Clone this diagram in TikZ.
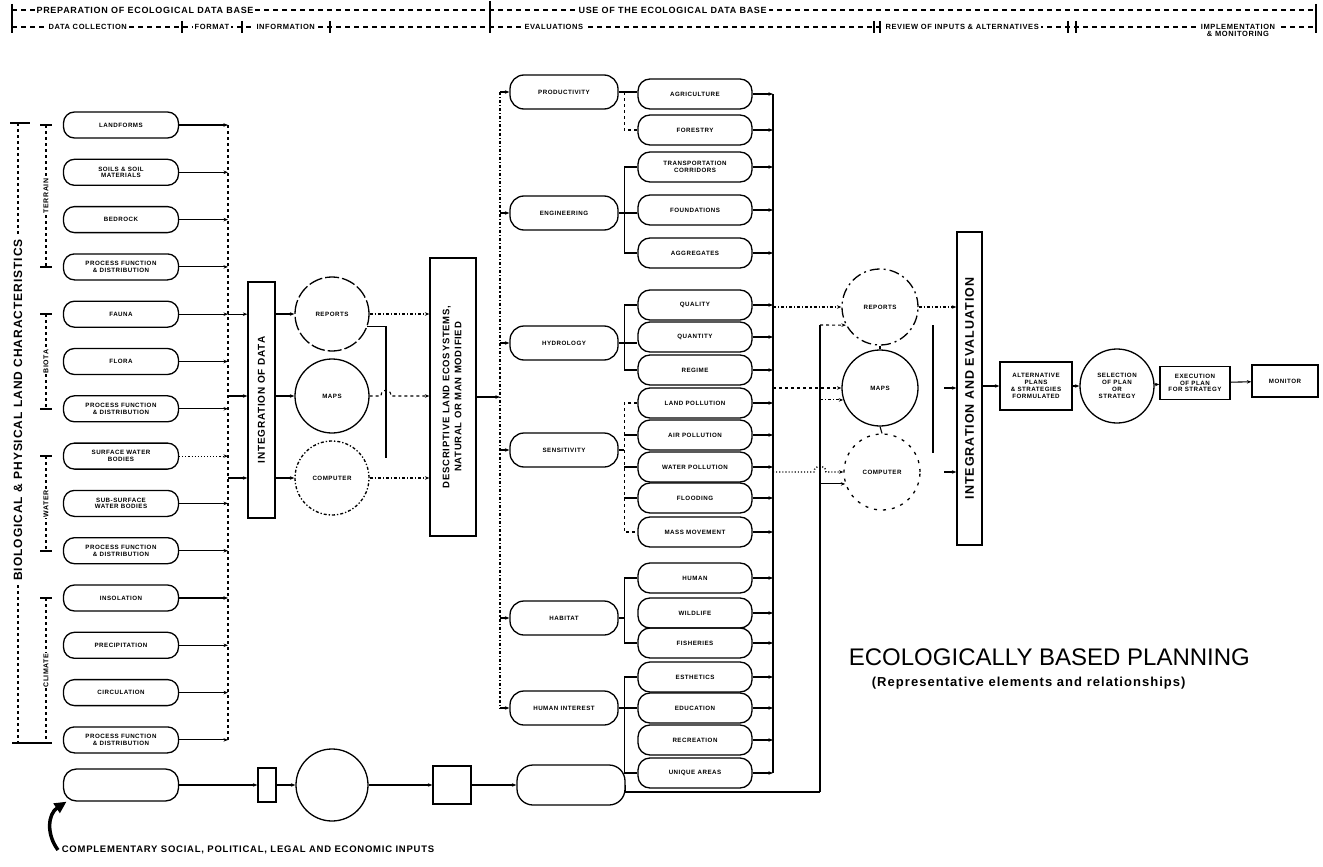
\documentclass[tikz,border=0pt]{standalone}
\usepackage{fontspec}
\usepackage{graphicx}
\setmainfont{Liberation Sans}
\newfontfamily\spacedfont[LetterSpace=8]{Liberation Sans}
\usetikzlibrary{arrows.meta,positioning,calc}

\tikzset{
  >={Stealth[length=4.5pt,width=3.5pt]},
  lbl/.style={font=\spacedfont\bfseries\fontsize{6.2}{6.8}\selectfont, align=center},
  pill/.style={lbl, draw, line width=1.3pt, rounded corners=11pt, minimum width=115pt, minimum height=26pt, inner sep=1pt},
  evalbox/.style={pill, minimum width=108pt, minimum height=34pt, rounded corners=14pt},
  subbox/.style={pill, minimum width=114pt, minimum height=30pt, rounded corners=12pt},
  ring/.style={lbl, draw, circle, line width=1.3pt, minimum size=74pt, inner sep=0pt},
  tallbox/.style={draw, line width=1.3pt, inner sep=0pt, font=\spacedfont\bfseries\fontsize{10}{12}\selectfont},
  plainbox/.style={lbl, draw, line width=1.3pt, inner sep=1pt},
  hdr1/.style={fill=white, inner sep=2pt, font=\spacedfont\bfseries\fontsize{9}{9}\selectfont},
  hdr2/.style={fill=white, inner sep=2pt, font=\spacedfont\bfseries\fontsize{7.5}{7}\selectfont, align=center},
  hdash/.style={line width=1.4pt, dash pattern=on 5pt off 4pt},
  feed/.style={->, line width=1.1pt},
  grp/.style={fill=white, inner sep=1pt, rotate=90, font=\spacedfont\bfseries\fontsize{7}{7}\selectfont}
}

\begin{document}
\begin{tikzpicture}[x=1pt,y=-1pt,line width=1.1pt]
\useasboundingbox (0,0) rectangle (1323,867);

% header
\draw[hdash] (12,10) -- (1316,10);
\draw[hdash] (12,27) -- (1316,27);
\draw[line width=1.4pt] (12,4) -- (12,33);
\draw[line width=1.4pt] (490,1) -- (490,33);
\draw[line width=1.4pt] (1316,4) -- (1316,33);
\foreach \x in {182,242,330,874,880,1068,1076}
  \draw[line width=1.3pt] (\x,21) -- (\x,33);
\node[hdr1, anchor=west] (prep) at (34,10) {PREPARATION OF ECOLOGICAL DATA BASE};
\node[hdr1, anchor=west] (use) at (576,10) {USE OF THE ECOLOGICAL DATA BASE};
\node[hdr2, anchor=west] (coll) at (46,27) {DATA COLLECTION};
\node[hdr2] (fmt) at (212,27) {FORMAT};
\node[hdr2, anchor=west] (info) at (254,27) {INFORMATION};
\node[hdr2, anchor=west] (eval) at (522,27) {EVALUATIONS};
\node[hdr2, anchor=west] (rev) at (883,27) {REVIEW OF INPUTS \& ALTERNATIVES};
\node[hdr2, anchor=north] (impl) at (1238,22) {IMPLEMENTATION\\\& MONITORING};

% left brackets
\draw[dashed, line width=1.4pt] (18,123) -- (18,743);
\draw[line width=1.4pt] (10,123) -- (30,123);
\draw[line width=1.4pt] (12,743) -- (52,743);
\node[fill=white, inner sep=3pt, rotate=90, font=\spacedfont\bfseries\fontsize{12}{12}\selectfont] (blc) at (18,410) {BIOLOGICAL \& PHYSICAL LAND CHARACTERISTICS};
\foreach \nm/\txt/\ya/\yb in {ter/TERRAIN/125/267, bio/BIOTA/314/409, wat/WATER/456/551, cli/CLIMATE/598/743}
{
  \draw[dashed, line width=1.3pt] (46,\ya) -- (46,\yb);
  \draw[line width=1.3pt] (40,\ya) -- (52,\ya);
  \draw[line width=1.3pt] (40,\yb) -- (52,\yb);
  \node[grp] (\nm) at (46,{(\ya+\yb)/2}) {\txt};
}

% data collection
\foreach \nm/\txt/\st [count=\i from 0] in {
  lnd/LANDFORMS/solid, soil/SOILS \& SOIL\\MATERIALS/solid, bed/BEDROCK/solid,
  prt/PROCESS FUNCTION\\\& DISTRIBUTION/solid, fau/FAUNA/solid, flo/FLORA/solid,
  prb/PROCESS FUNCTION\\\& DISTRIBUTION/solid, srf/SURFACE WATER\\BODIES/dotted,
  sub/SUB-SURFACE\\WATER BODIES/solid, prw/PROCESS FUNCTION\\\& DISTRIBUTION/solid,
  ins/INSOLATION/solid, pcp/PRECIPITATION/solid, cir/CIRCULATION/solid,
  prc/PROCESS FUNCTION\\\& DISTRIBUTION/solid}
{
  \node[pill] (\nm) at (121,{125+47.3*\i}) {\txt};
  \coordinate (bus\i) at (228,{125+47.3*\i});
  \draw[feed, \st] (\nm.east) -- (bus\i);
}
\draw[dashed] (bus0) -- (bus13);

% format
\node[tallbox, minimum width=27pt, minimum height=236pt] (integ) at (261.5,400) {\rotatebox{90}{INTEGRATION OF DATA}};
\node[ring, dash pattern=on 14pt off 3pt] (rep) at (332,314) {REPORTS};
\node[ring] (map) at (332,396) {MAPS};
\node[ring, dash dot] (cmp) at (332,478) {COMPUTER};
\draw[feed] (bus4) -- (bus4 -| integ.west);
\draw[feed] (map -| bus0) -- (map -| integ.west);
\draw[feed] (cmp -| bus0) -- (cmp -| integ.west);
\foreach \c in {rep,map,cmp}
  \draw[feed] (\c -| integ.east) -- (\c.west);

% information
\node[tallbox, minimum width=46pt, minimum height=278pt, font=\spacedfont\bfseries\fontsize{9.5}{12}\selectfont] (desc) at (453,397) {\rotatebox{90}{\begin{tabular}{@{}c@{}}DESCRIPTIVE LAND ECOSYSTEMS,\\NATURAL OR MAN MODIFIED\end{tabular}}};
\coordinate (fb) at (386,458);
\draw (rep.-20) -| (fb);
\draw[feed, dash dot] (rep.east) -- (rep -| desc.west);
\draw[feed, dashed] (map.east) -- (381,396) .. controls (381,388) and (391,388) .. (391,396) -- (map -| desc.west);
\draw[feed, dash dot] (cmp.east) -- (cmp -| desc.west);

% evaluations
\coordinate (et) at (500,92);
\coordinate (eb) at (500,708);
\draw[dash dot, line width=1.3pt] (et) -- (eb);
\draw[feed] (desc.east) -- (desc.east -| et);
\foreach \nm/\txt/\yy in {prod/PRODUCTIVITY/92, eng/ENGINEERING/213, hyd/HYDROLOGY/343,
  sens/SENSITIVITY/450, hab/HABITAT/618, hum/HUMAN INTEREST/708}
{
  \node[evalbox] (\nm) at (564,\yy) {\txt};
  \draw[feed] (\nm.west -| et) -- (\nm.west);
}
\coordinate (rt) at (773,94);
\coordinate (rb) at (773,773);
\foreach \nm/\txt/\yy in {agr/AGRICULTURE/94, for/FORESTRY/130, trn/TRANSPORTATION\\CORRIDORS/167,
  fnd/FOUNDATIONS/210, agg/AGGREGATES/253, qul/QUALITY/305, qnt/QUANTITY/337, reg/REGIME/370,
  lpo/LAND POLLUTION/403, apo/AIR POLLUTION/435, wpo/WATER POLLUTION/467, fld/FLOODING/498,
  mas/MASS MOVEMENT/532, hmn/HUMAN/578, wld/WILDLIFE/613, fsh/FISHERIES/643,
  est/ESTHETICS/677, edu/EDUCATION/708, rec/RECREATION/740, unq/UNIQUE AREAS/773}
{
  \node[subbox] (\nm) at (695,\yy) {\txt};
  \draw[feed] (\nm.east) -- (\nm.east -| rt);
}
\draw[line width=1.3pt] (rt) -- (rb);
\coordinate (bx) at ($(agr.west)+(-13,0)$);
\draw (prod.east) -- (prod.east -| agr.west);
\draw[dashed] (prod.east -| bx) |- (for.west);
\draw (trn.west) -| (bx |- agg) -- (agg.west);
\draw (eng.east) -- (eng.east -| fnd.west);
\draw (qul.west) -| (bx |- reg) -- (reg.west);
\draw (hyd.east) -- (hyd.east -| qnt.west);
\draw[dashed] (lpo.west) -| (bx |- mas) -- (mas.west);
\foreach \b in {apo,wpo,fld}
  \draw (\b.west) -- (\b.west -| bx);
\draw (sens.east) -- (sens.east -| bx);
\draw (hmn.west) -| (bx |- fsh) -- (fsh.west);
\draw (hab.east) -- (hab.east -| bx);
\draw (est.west) -| (bx |- unq) -- (unq.west);
\draw (hum.east) -- (hum.east -| edu.west);

% review of inputs
\node[ring, minimum size=76pt, dash pattern=on 10pt off 4pt on 2pt off 4pt] (rrep) at (880,307) {REPORTS};
\node[ring, minimum size=76pt] (rmap) at (880,388) {MAPS};
\node[ring, minimum size=76pt, dash pattern=on 3pt off 6pt] (rcmp) at (882,472) {COMPUTER};
\coordinate (rvt) at (820,325);
\coordinate (rvb) at (820,792);
\draw[line width=1.3pt] (rvt) -- (rvb);
\draw[feed, dash dot] (rrep -| rt) -- (rrep.west);
\draw[feed, dashed] (rmap -| rt) -- (rmap.west);
\draw[feed, dotted, line width=1.4pt] (rcmp -| rt) -- (814,472) .. controls (814,464) and (826,464) .. (826,472) -- (rcmp.west);
\draw[feed, dashed] (rvt) -- (rrep.208);
\draw[feed, dash dot] (rmap.198 -| rvt) -- (rmap.198);
\draw[feed] (rcmp.198 -| rvt) -- (rcmp.198);
\draw (rrep.south) -- (rmap.north);
\draw (rmap.south) -- (rcmp.north);
\coordinate (ra) at (933,325);
\coordinate (rz) at (933,453);
\draw (ra) -- (rz);
\node[tallbox, minimum width=25pt, minimum height=313pt, font=\spacedfont\bfseries\fontsize{12.5}{12}\selectfont] (ie) at (969.5,388.5) {\rotatebox{90}{INTEGRATION AND EVALUATION}};
\draw[feed, dash dot] (rrep.east) -- (rrep -| ie.west);
\draw[feed] ($(rmap -| ie.west)+(-12,0)$) -- (rmap -| ie.west);
\draw[feed] ($(rcmp -| ie.west)+(-12,0)$) -- (rcmp -| ie.west);

% implementation and monitoring
\node[plainbox, minimum width=72pt, minimum height=48pt] (alt) at (1036,386) {ALTERNATIVE\\PLANS\\\& STRATEGIES\\FORMULATED};
\node[ring] (sel) at (1117,386) {SELECTION\\OF PLAN\\OR\\STRATEGY};
\node[plainbox, minimum width=70pt, minimum height=33pt] (exe) at (1195,383) {EXECUTION\\OF PLAN\\FOR STRATEGY};
\node[plainbox, minimum width=66pt, minimum height=32pt] (mon) at (1285,381) {MONITOR};
\draw[feed] (alt -| ie.east) -- (alt.west);
\draw[feed] (alt.east) -- (sel.west);
\draw[feed] (sel) -- (exe);
\draw[feed] (exe) -- (mon);

% complementary inputs
\node[pill, minimum height=32pt, rounded corners=13pt] (emp) at (121,785) {};
\node[draw, line width=1.3pt, minimum width=18pt, minimum height=34pt] (rct) at (267,785) {};
\node[draw, circle, line width=1.3pt, minimum size=72pt] (bcir) at (332,785) {};
\node[draw, line width=1.3pt, minimum width=38pt, minimum height=38pt] (sqr) at (452,785) {};
\node[pill, minimum width=108pt, minimum height=40pt, rounded corners=16pt] (rnd) at (571,785) {};
\draw[feed] (emp) -- (rct);
\draw[feed] (rct) -- (bcir);
\draw[feed] (bcir) -- (sqr);
\draw[feed] (sqr) -- (rnd);
\draw[line width=1.3pt] (rnd.east) |- (rvb);
\node[anchor=west, font=\spacedfont\bfseries\fontsize{9.5}{9.5}\selectfont] (inputs) at (58,850) {COMPLEMENTARY SOCIAL, POLITICAL, LEGAL AND ECONOMIC INPUTS};
\draw[line width=3.5pt, -{Triangle[length=12pt,width=11pt]}] (inputs.west) .. controls (46,834) and (48,814) .. (emp.197);

% title
\node[anchor=west, font=\fontsize{24}{26}\selectfont] (ttl) at (845,657) {ECOLOGICALLY BASED PLANNING};
\node[anchor=west, font=\spacedfont\bfseries\fontsize{13}{13}\selectfont] (sub) at (868,683) {(Representative elements and relationships)};
\end{tikzpicture}
\end{document}
